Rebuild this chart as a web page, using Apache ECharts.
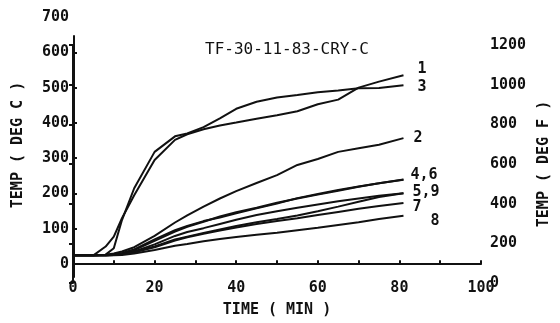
<!DOCTYPE html>
<html>
<head>
<meta charset="utf-8">
<script src="https://cdn.jsdelivr.net/npm/echarts@6/dist/echarts.min.js"></script>
<style>
  html, body { margin: 0; padding: 0; background: #fff; }
  #chart { width: 560px; height: 323px; }
</style>
</head>
<body>
<div id="chart"></div>
<script>
// time points (min) shared by all curves
const timeMin = [0, 5, 8, 10, 12, 15, 20, 25, 28, 32, 36, 40, 45, 50, 55, 60, 65, 70, 75, 81];

// temperatures (deg C), one array per thermocouple
const curve1 = [25, 25, 50, 78, 130, 195, 295, 352, 368, 382, 393, 401, 412, 422, 433, 453, 466, 500, 517, 535];
const curve3 = [25, 25, 27, 45, 125, 215, 318, 362, 370, 388, 413, 440, 460, 472, 479, 487, 492, 498, 499, 507];
const curve2 = [25, 25, 27, 30, 36, 48, 80, 118, 138, 163, 186, 207, 230, 252, 281, 298, 318, 328, 338, 357];
const curve4 = [25, 25, 26, 28, 32, 42, 70, 96, 108, 122, 132, 144, 158, 172, 187, 199, 210, 220, 229, 240];
const curve6 = [25, 25, 25, 27, 30, 40, 66, 92, 106, 120, 135, 147, 160, 174, 186, 197, 208, 219, 229, 239];
const curve5 = [25, 25, 25, 26, 28, 36, 56, 80, 91, 102, 114, 126, 139, 150, 160, 169, 178, 186, 194, 201];
const curve9 = [25, 25, 25, 26, 28, 35, 50, 70, 78, 88, 98, 108, 119, 128, 138, 150, 163, 177, 190, 201];
const curve7 = [25, 25, 25, 26, 28, 34, 48, 67, 76, 86, 95, 104, 114, 122, 130, 139, 148, 157, 165, 173];
const curve8 = [25, 25, 25, 25, 26, 30, 40, 52, 57, 65, 71, 77, 83, 89, 96, 103, 111, 119, 128, 137];

// tick labels
const timeLabels = [0, 20, 40, 60, 80, 100];
const degCTicks = [0, 100, 200, 300, 400, 500, 600];
const degCLabels = [0, 100, 200, 300, 400, 500, 600, 700];

const ink = "#111";
const font = "DejaVu Sans Mono";

const chart = echarts.init(document.getElementById("chart"));

function curve(name, values, label, offset) {
  return {
    name: name,
    type: "line",
    xAxisIndex: 0,
    yAxisIndex: 0,
    data: timeMin.map((t, i) => [t, values[i]]),
    showSymbol: false,
    symbol: "none",
    silent: true,
    lineStyle: { color: ink, width: 2 },
    endLabel: label ? {
      show: true,
      formatter: label,
      color: ink,
      fontFamily: font,
      fontWeight: "bold",
      fontSize: 15,
      distance: 0,
      offset: offset
    } : { show: false }
  };
}

const option = {
  backgroundColor: "#fff",
  animation: false,
  title: {
    text: "TF-30-11-83-CRY-C",
    left: 200,
    top: 37,
    textStyle: { color: ink, fontFamily: font, fontSize: 16, fontWeight: "normal" }
  },
  grid: [
    // data area
    { left: 73, right: 79, top: 17, height: 260 },
    // left axis line (shorter than label range)
    { left: 74, right: 79, top: 36, height: 241 },
    // right deg F axis
    { left: 73, right: 77, top: 45, height: 238 }
  ],
  xAxis: [
    {
      gridIndex: 0, type: "value", min: 0, max: 100, interval: 10,
      name: "TIME ( MIN )", nameLocation: "middle", nameGap: 30,
      nameTextStyle: { color: ink, fontFamily: font, fontSize: 15, fontWeight: "bold" },
      axisLine: { show: true, lineStyle: { color: ink, width: 2 } },
      axisTick: { show: true, inside: true, length: 4, lineStyle: { color: ink, width: 2 } },
      axisLabel: { customValues: timeLabels, color: ink, fontFamily: font, fontSize: 15, fontWeight: "bold", margin: 8 },
      splitLine: { show: false }
    },
    { gridIndex: 1, type: "value", min: 0, max: 100, show: false },
    { gridIndex: 2, type: "value", min: 0, max: 100, show: false }
  ],
  yAxis: [
    {
      gridIndex: 0, type: "value", min: -25, max: 700,
      name: "TEMP ( DEG C )", nameLocation: "middle", nameGap: 47, nameRotate: 90,
      nameTextStyle: { color: ink, fontFamily: font, fontSize: 15, fontWeight: "bold" },
      axisLine: { show: false },
      axisTick: { show: true, inside: true, length: 4, customValues: degCTicks, lineStyle: { color: ink, width: 2 } },
      axisLabel: { customValues: degCLabels, color: ink, fontFamily: font, fontSize: 15, fontWeight: "bold", margin: 4 },
      splitLine: { show: false }
    },
    {
      gridIndex: 1, type: "value", min: 0, max: 100,
      axisLine: { show: true, lineStyle: { color: ink, width: 2 } },
      axisTick: { show: false }, axisLabel: { show: false }, splitLine: { show: false }
    },
    {
      gridIndex: 2, type: "value", position: "right", min: 0, max: 1200, interval: 200,
      name: "TEMP ( DEG F )", nameLocation: "middle", nameGap: 62, nameRotate: 90,
      nameTextStyle: { color: ink, fontFamily: font, fontSize: 15, fontWeight: "bold" },
      axisLine: { show: true, lineStyle: { color: ink, width: 2 } },
      axisTick: { show: true, inside: true, length: 4, lineStyle: { color: ink, width: 2 } },
      axisLabel: {
        formatter: (v) => String(v),
        color: ink, fontFamily: font, fontSize: 15, fontWeight: "bold", margin: 18
      },
      splitLine: { show: false }
    }
  ],
  series: [
    curve("1", curve1, "1", [14, -6]),
    curve("3", curve3, "3", [14, 2]),
    curve("2", curve2, "2", [10, 0]),
    curve("4", curve4, "4,6", [7, -4]),
    curve("6", curve6, null),
    curve("5", curve5, "5,9", [9, -1]),
    curve("9", curve9, null),
    curve("7", curve7, "7", [9, 4]),
    curve("8", curve8, "8", [27, 5])
  ]
};

chart.setOption(option);
</script>
</body>
</html>
